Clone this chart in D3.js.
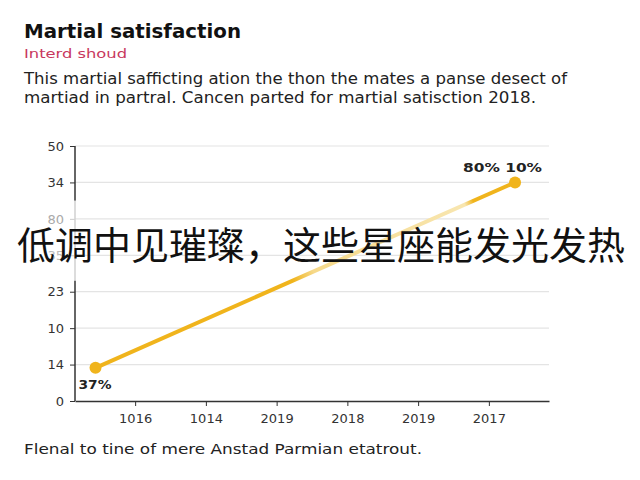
<!DOCTYPE html>
<html>
<head>
<meta charset="utf-8">
<script src="https://cdn.jsdelivr.net/npm/d3@7"></script>
<style>
  body { margin: 0; background: #fff; }
  svg { display: block; }
</style>
</head>
<body>
<div id="chart"></div>
<script>
// tick labels as printed on the chart (bottom to top)
const yTickLabels = ["0", "14", "10", "23", "35", "80", "34", "50"];
const xTickLabels = ["1016", "1014", "2019", "2018", "2019", "2017"];
// line: x in category index units, y in tick-level units
const lineX = [-0.56, 5.37];
const lineY = [0.91, 6.0];
const pointLabels = ["37%", "80% 10%"];

const drawChart = () => {
  const width = 640;
  const height = 480;
  const margin = { top: 146, right: 91, bottom: 79, left: 75 };

  const svg = d3
    .select("#chart")
    .append("svg")
    .attr("width", width)
    .attr("height", height);

  const x = d3
    .scaleLinear()
    .domain([-0.85, xTickLabels.length - 1 + 0.85])
    .range([margin.left, width - margin.right]);

  const y = d3
    .scaleLinear()
    .domain([0, yTickLabels.length - 1])
    .range([height - margin.bottom, margin.top]);

  const font = "'DejaVu Sans', Verdana, sans-serif";

  // gridlines
  svg
    .append("g")
    .selectAll("line")
    .data(d3.range(1, yTickLabels.length))
    .join("line")
    .attr("x1", margin.left)
    .attr("x2", width - margin.right)
    .attr("y1", (d) => y(d))
    .attr("y2", (d) => y(d))
    .attr("stroke", "#e4e4e4")
    .attr("stroke-width", 1.2);

  // y axis
  const yAxis = svg
    .append("g")
    .attr("transform", `translate(${margin.left},0)`)
    .call(
      d3
        .axisLeft(y)
        .tickValues(d3.range(yTickLabels.length))
        .tickFormat((d) => yTickLabels[d])
        .tickSize(5)
        .tickPadding(6)
    );
  yAxis.select(".domain").remove();
  yAxis.selectAll("line").attr("stroke", (d) => (d === 4 || d === 5 ? "#ccc" : "#333"));
  yAxis
    .selectAll("text")
    .attr("font-family", font)
    .attr("font-size", 13)
    .attr("fill", (d) => (d === 5 ? "#aaa" : d === 4 ? "#bbb" : "#333"));

  // y axis line with faded middle
  const fadeTop = y(5.5);
  const fadeBottom = y(3.3);
  [
    [y(yTickLabels.length - 1), fadeTop, "#333"],
    [fadeTop, fadeBottom, "#d0d0d0"],
    [fadeBottom, y(0), "#333"],
  ].forEach(([a, b, c]) => {
    svg
      .append("line")
      .attr("x1", margin.left)
      .attr("x2", margin.left)
      .attr("y1", a)
      .attr("y2", b)
      .attr("stroke", c)
      .attr("stroke-width", 1.5);
  });

  // x axis
  const xAxis = svg
    .append("g")
    .attr("transform", `translate(0,${y(0)})`)
    .call(
      d3
        .axisBottom(x)
        .tickValues(d3.range(xTickLabels.length))
        .tickFormat((d) => xTickLabels[d])
        .tickSize(5)
        .tickSizeOuter(0)
        .tickPadding(8)
    );
  xAxis.select(".domain").attr("stroke", "#333").attr("stroke-width", 1.5);
  xAxis.selectAll("line").attr("stroke", "#333");
  xAxis
    .selectAll("text")
    .attr("font-family", font)
    .attr("font-size", 13)
    .attr("fill", "#333");

  // line with gradient
  const pts = lineX.map((d, i) => [x(d), y(lineY[i])]);
  const grad = svg
    .append("defs")
    .append("linearGradient")
    .attr("id", "lineGrad")
    .attr("gradientUnits", "userSpaceOnUse")
    .attr("x1", pts[0][0])
    .attr("y1", pts[0][1])
    .attr("x2", pts[1][0])
    .attr("y2", pts[1][1]);
  [
    [0, "#f0b41c"],
    [0.47, "#f0b41c"],
    [0.52, "#f6d98a"],
    [0.88, "#f8e6b0"],
    [0.9, "#f0b41c"],
    [1, "#f0b41c"],
  ].forEach(([o, c]) => grad.append("stop").attr("offset", o).attr("stop-color", c));

  svg
    .append("path")
    .datum(pts)
    .attr("d", d3.line())
    .attr("fill", "none")
    .attr("stroke", "url(#lineGrad)")
    .attr("stroke-width", 4)
    .attr("stroke-linecap", "round");

  svg
    .selectAll(".dot")
    .data(pts)
    .join("circle")
    .attr("class", "dot")
    .attr("cx", (d) => d[0])
    .attr("cy", (d) => d[1])
    .attr("r", 6)
    .attr("fill", "#f0b41c");

  // point labels
  svg
    .append("text")
    .attr("x", pts[0][0] - 17)
    .attr("y", pts[0][1] + 21)
    .attr("font-family", font)
    .attr("font-size", 13)
    .attr("font-weight", "bold")
    .attr("fill", "#222")
    .attr("textLength", 33)
    .attr("lengthAdjust", "spacingAndGlyphs")
    .text(pointLabels[0]);

  svg
    .append("text")
    .attr("x", 463)
    .attr("y", pts[1][1] - 10)
    .attr("font-family", font)
    .attr("font-size", 13)
    .attr("font-weight", "bold")
    .attr("fill", "#222")
    .attr("textLength", 79)
    .attr("lengthAdjust", "spacingAndGlyphs")
    .text(pointLabels[1]);

  // titles
  svg
    .append("text")
    .attr("x", 24)
    .attr("y", 38)
    .attr("font-family", font)
    .attr("font-size", 19)
    .attr("font-weight", "bold")
    .attr("fill", "#111")
    .attr("textLength", 217)
    .attr("lengthAdjust", "spacingAndGlyphs")
    .text("Martial satisfaction");

  svg
    .append("text")
    .attr("x", 24)
    .attr("y", 58)
    .attr("font-family", font)
    .attr("font-size", 13)
    .attr("fill", "#c8385e")
    .attr("textLength", 103)
    .attr("lengthAdjust", "spacingAndGlyphs")
    .text("Interd shoud");

  const desc = [
    "This martial safficting ation the thon the mates a panse desect of",
    "martiad in partral. Cancen parted for martial satisction 2018.",
  ];
  const descWidths = [543, 512];
  svg
    .selectAll(".desc")
    .data(desc)
    .join("text")
    .attr("class", "desc")
    .attr("x", 24)
    .attr("y", (d, i) => 84 + i * 19)
    .attr("font-family", font)
    .attr("font-size", 15)
    .attr("fill", "#222")
    .attr("textLength", (d, i) => descWidths[i])
    .attr("lengthAdjust", "spacingAndGlyphs")
    .text((d) => d);

  // footer
  svg
    .append("text")
    .attr("x", 24)
    .attr("y", 454)
    .attr("font-family", font)
    .attr("font-size", 14)
    .attr("fill", "#222")
    .attr("textLength", 398)
    .attr("lengthAdjust", "spacingAndGlyphs")
    .text("Flenal to tine of mere Anstad Parmian etatrout.");

  // overlay caption
  svg
    .append("text")
    .attr("x", 321)
    .attr("y", 259)
    .attr("text-anchor", "middle")
    .attr("font-family", "'Noto Sans CJK SC', sans-serif")
    .attr("font-size", 38)
    .attr("fill", "#111")
    .text("低调中见璀璨，这些星座能发光发热");
};

drawChart();
</script>
</body>
</html>
